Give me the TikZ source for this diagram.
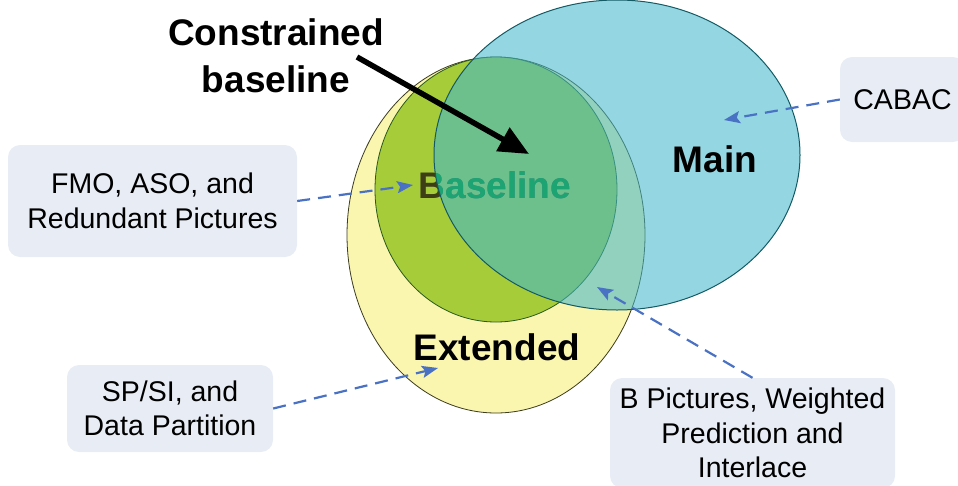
\documentclass[tikz,border=0pt]{standalone}
\usepackage{fontspec}
\setmainfont{Liberation Sans}
\usetikzlibrary{shapes.geometric,arrows.meta}
\definecolor{yfill}{RGB}{250,245,175}
\definecolor{ydraw}{RGB}{60,60,30}
\definecolor{gfill}{RGB}{166,204,58}
\definecolor{gdraw}{RGB}{40,90,30}
\definecolor{bfill}{RGB}{67,183,203}
\definecolor{bdraw}{RGB}{20,90,100}
\definecolor{boxfill}{RGB}{232,237,245}
\definecolor{arr}{RGB}{74,114,196}
\definecolor{basedark}{RGB}{62,62,22}
\definecolor{baseteal}{RGB}{28,165,115}
\begin{document}
\begin{tikzpicture}[x=1pt,y=-1pt,
  setshape/.style={ellipse, inner sep=0pt},
  infobox/.style={rounded corners=12pt, fill=boxfill, align=center, inner sep=0pt,
    font=\fontsize{28.5}{34.5}\selectfont},
  biglabel/.style={font=\fontsize{37}{47}\selectfont\bfseries, inner sep=0pt},
  hint/.style={draw=arr, line width=2.2pt, dash pattern=on 13pt off 8pt,
    -{Stealth[length=16pt,width=12pt,inset=3pt]}},
]
\useasboundingbox (0,0) rectangle (958,485);
\clip (0,0) rectangle (958,485);

% sets
\node[setshape, draw=ydraw, line width=0.8pt, fill=yfill,
  minimum width=298pt, minimum height=356pt] (ext) at (496,235) {};
\node[setshape, draw=gdraw, line width=0.8pt, fill=gfill,
  minimum width=242pt, minimum height=265pt] (base) at (496,189.5) {};
\node[biglabel, anchor=base, text=basedark] (baselbl) at (495,198) {Baseline};
\node[setshape, fill=bfill, fill opacity=0.57,
  minimum width=366pt, minimum height=310pt] (main) at (617,155) {};
\begin{scope}
  \clip (617,155) ellipse [x radius=183pt, y radius=155pt];
  \node[biglabel, anchor=base, text=baseteal] (baselbl2) at (495,198) {Baseline};
\end{scope}
\node[setshape, draw=bdraw, line width=1pt,
  minimum width=366pt, minimum height=310pt] (mainedge) at (617,155) {};

% set labels
\node[biglabel, anchor=base] (mainlbl) at (715,172) {Main};
\node[biglabel, anchor=base] (extlbl) at (497,360) {Extended};
\node[biglabel, align=center] (cblbl) at (276,56) {Constrained\\baseline};

% feature boxes
\node[infobox, minimum width=289pt, minimum height=112pt] (fmo) at (152.5,201)
  {FMO, ASO, and\\Redundant Pictures};
\node[infobox, minimum width=206pt, minimum height=87pt] (sp) at (170,408.5)
  {SP/SI, and\\Data Partition};
\node[infobox, minimum width=125pt, minimum height=85pt] (cabac) at (902.5,99.5)
  {CABAC};
\node[infobox, minimum width=285pt, minimum height=110pt] (bp) at (752.5,433)
  {B Pictures, Weighted\\Prediction and\\Interlace};

% connectors
\coordinate (fmotip) at (413,185);
\coordinate (sptip) at (438,368);
\coordinate (cabactip) at (724,120);
\coordinate (bptip) at (597,287);
\coordinate (cbtail) at (357,57);
\coordinate (cbtip) at (529,154);
\draw[hint] (fmo.east) -- (fmotip);
\draw[hint] (sp.east) -- (sptip);
\draw[hint] (cabac.west) -- (cabactip);
\draw[hint] (bp.north) -- (bptip);
\draw[line width=5.5pt, -{Triangle[length=30pt,width=26pt]}] (cbtail) -- (cbtip);
\end{tikzpicture}
\end{document}
